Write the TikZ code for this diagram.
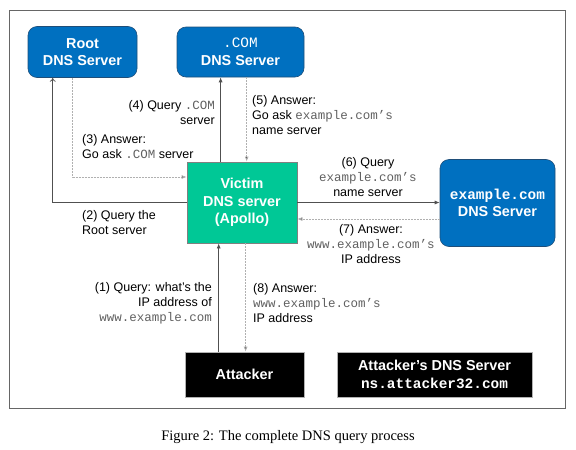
\documentclass[tikz,border=0pt]{standalone}
\usepackage{fontspec}
\setmainfont{Liberation Sans}
\setsansfont{Liberation Sans}
\setmonofont{Liberation Mono}
\newfontfamily\capfont{Liberation Serif}
\usetikzlibrary{arrows.meta,calc}
\definecolor{boxblue}{HTML}{0070C0}
\definecolor{boxblueedge}{HTML}{1F4E79}
\definecolor{victimgreen}{HTML}{00C896}
\definecolor{monogray}{HTML}{606060}
\definecolor{solidline}{HTML}{505050}
\definecolor{dashline}{HTML}{B0B0B0}
\newcommand{\mt}[1]{{\ttfamily\color{monogray}#1}}
\tikzset{
  bluebox/.style={draw=boxblueedge, line width=0.6pt, fill=boxblue, rounded corners=9pt, text=white,
    font=\fontsize{14.4}{17.5}\selectfont\bfseries, align=center, inner sep=0pt},
  greenbox/.style={draw=gray, line width=0.8pt, fill=victimgreen, text=white,
    font=\fontsize{14.4}{17.5}\selectfont\bfseries, align=center, inner sep=0pt},
  blackbox/.style={draw=gray!60, line width=0.6pt, fill=black, text=white,
    font=\fontsize{14.4}{17.5}\selectfont\bfseries, align=center, inner sep=0pt},
  lbl/.style={font=\fontsize{12.5}{15}\selectfont, inner sep=0pt, text=black},
  qline/.style={draw=solidline, line width=0.7pt, -{Latex[length=5pt,width=4pt]}},
  aline/.style={draw=dashline, line width=0.8pt, dash pattern=on 2pt off 1pt, -{Latex[length=5pt,width=4pt,fill=black]}},
}
\begin{document}
\begin{tikzpicture}[x=1pt,y=-1pt]
\useasboundingbox (0,0) rectangle (576,450);
\node[draw=gray!80!black, line width=0.9pt, minimum width=556pt, minimum height=398pt, inner sep=0pt] (frame) at (287,209) {};

\node[bluebox, minimum width=109pt, minimum height=51pt] (root) at (82.5,52) {Root\\DNS Server};
\node[bluebox, minimum width=127pt, minimum height=50pt] (com) at (240.5,52) {{\mdseries\ttfamily .COM}\\DNS Server};
\node[greenbox, minimum width=110pt, minimum height=81pt] (victim) at (242,202.5) {Victim\\DNS server\\(Apollo)};
\node[bluebox, minimum width=115pt, minimum height=87pt] (ex) at (497.5,203) {{\ttfamily example.com}\\DNS Server};
\node[blackbox, minimum width=119pt, minimum height=45pt] (att) at (244.5,374.5) {Attacker};
\node[blackbox, minimum width=195pt, minimum height=45pt] (attdns) at (434.5,374.5) {Attacker’s DNS Server\\{\ttfamily ns.attacker32.com}};

% (2) query root
\draw[draw=solidline, line width=0.7pt, -{To[length=4pt,width=6pt]}] (victim.west) -| ([xshift=25pt]root.south west);
% (3) answer
\draw[aline] ([xshift=45pt]root.south west) |- ([yshift=25.5pt]victim.west);
% (4) query com
\coordinate (q4) at ([xshift=34pt]victim.north west);
\draw[qline] (q4) -- (q4 |- com.south);
% (5) answer
\coordinate (a5) at ([xshift=70pt]com.south west);
\draw[aline] (a5) -- (a5 |- victim.north);
% (6) query example
\draw[qline] (victim.east) -- (victim.east -| ex.west);
% (7) answer
\coordinate (a7) at ([yshift=-16pt]ex.west);
\draw[aline] (a7) -- (a7 -| victim.east);
% (1) query
\coordinate (q1) at ([xshift=34pt]att.north west);
\draw[qline] (q1) -- (q1 |- victim.south);
% (8) answer
\coordinate (a8) at ([xshift=59pt]victim.south west);
\draw[aline] (a8) -- (a8 |- att.north);

% labels
\node[lbl, anchor=east, align=right] (l4) at (215,113) {(4) Query \mt{.COM}\\server};
\node[lbl, anchor=west, align=left] (l5) at (252,115.5) {(5) Answer:\\Go ask \mt{example.com’s}\\name server};
\node[lbl, anchor=west, align=left] (l3) at (82,147) {(3) Answer:\\Go ask \mt{.COM} server};
\node[lbl, anchor=west, align=left] (l2) at (82,222.5) {(2) Query the\\Root server};
\node[lbl, align=center] (l6) at (368,177) {(6) Query\\\mt{example.com’s}\\name server};
\node[lbl, align=center] (l7) at (371,244) {(7) Answer:\\\mt{www.example.com’s}\\IP address};
\node[lbl, anchor=east, align=right] (l1) at (212,303) {(1) Query: what’s the\\IP address of\\\mt{www.example.com}};
\node[lbl, anchor=west, align=left] (l8) at (253,303) {(8) Answer:\\\mt{www.example.com’s}\\IP address};

\node[font=\capfont\fontsize{14.5}{17}\selectfont, inner sep=0pt] (cap) at (288,437) {Figure 2: The complete DNS query process};
\end{tikzpicture}
\end{document}
